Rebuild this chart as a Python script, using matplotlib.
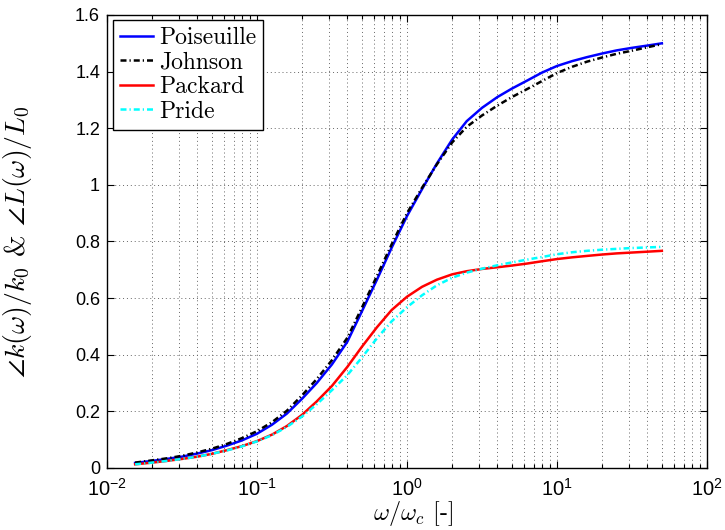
import matplotlib
matplotlib.use("Agg")
import matplotlib.pyplot as plt
from matplotlib.ticker import FixedLocator, LogLocator, NullLocator

plt.rcParams['mathtext.fontset'] = 'custom'
plt.rcParams['mathtext.rm'] = 'Liberation Sans'
plt.rcParams['mathtext.it'] = 'Liberation Sans:italic'
plt.rcParams['mathtext.bf'] = 'Liberation Sans:bold'
plt.rcParams['font.family'] = ['Liberation Sans', 'DejaVu Sans']
plt.rcParams['axes.unicode_minus'] = True

# normalised frequency omega/omega_c
freq = [0.0154, 0.02, 0.025, 0.0316, 0.04, 0.05, 0.063, 0.079, 0.1, 0.126,
        0.158, 0.2, 0.25, 0.316, 0.4, 0.5, 0.63, 0.79, 1.0, 1.26, 1.58, 2.0,
        2.5, 3.16, 4.0, 5.0, 6.3, 7.9, 10.0, 12.6, 15.8, 20.0, 25.0, 31.6,
        40.0, 50.0]

# phase of the normalised dynamic permeability / inductance
poiseuille = [0.018, 0.025, 0.032, 0.040, 0.051, 0.063, 0.079, 0.097, 0.121,
              0.153, 0.192, 0.245, 0.300, 0.366, 0.446, 0.553, 0.665, 0.778,
              0.890, 0.985, 1.075, 1.160, 1.225, 1.272, 1.310, 1.340, 1.368,
              1.396, 1.420, 1.437, 1.451, 1.464, 1.475, 1.484, 1.492, 1.500]
johnson = [0.019, 0.027, 0.034, 0.043, 0.055, 0.068, 0.085, 0.105, 0.130,
           0.162, 0.202, 0.257, 0.314, 0.381, 0.460, 0.566, 0.678, 0.790,
           0.900, 0.990, 1.072, 1.150, 1.205, 1.245, 1.280, 1.310, 1.338,
           1.366, 1.395, 1.417, 1.435, 1.450, 1.463, 1.474, 1.486, 1.497]
packard = [0.013, 0.019, 0.025, 0.032, 0.040, 0.050, 0.063, 0.077, 0.095,
           0.118, 0.148, 0.188, 0.235, 0.290, 0.357, 0.428, 0.497, 0.558,
           0.605, 0.640, 0.665, 0.684, 0.695, 0.703, 0.709, 0.715, 0.722,
           0.730, 0.738, 0.744, 0.749, 0.754, 0.758, 0.761, 0.764, 0.767]
pride = [0.013, 0.019, 0.025, 0.032, 0.040, 0.050, 0.062, 0.076, 0.094,
         0.116, 0.145, 0.182, 0.225, 0.275, 0.328, 0.390, 0.458, 0.518,
         0.568, 0.610, 0.645, 0.672, 0.690, 0.704, 0.716, 0.726, 0.736,
         0.745, 0.755, 0.762, 0.767, 0.771, 0.774, 0.777, 0.779, 0.781]

x_ticks = [1e-2, 1e-1, 1e0, 1e1, 1e2]
x_ticklabels = [r'$10^{-2}$', r'$10^{-1}$', r'$10^{0}$', r'$10^{1}$', r'$10^{2}$']
y_ticks = [0, 0.2, 0.4, 0.6, 0.8, 1.0, 1.2, 1.4, 1.6]
y_ticklabels = ['0', '0.2', '0.4', '0.6', '0.8', '1', '1.2', '1.4', '1.6']

fig = plt.figure(figsize=(7.25, 5.30), dpi=100)
ax = fig.add_axes([0.1476, 0.117, 0.8276, 0.8547])

lw = 1.8
dashdot = (2.4, 1.2, 0.5, 1.2)
ax.plot(freq, poiseuille, color=(0, 0, 1), lw=lw, label='Poiseuille', zorder=3)
ax.plot(freq, johnson, color='k', lw=lw, dashes=dashdot, label='Johnson', zorder=4)
ax.plot(freq, packard, color=(1, 0, 0), lw=lw, label='Packard', zorder=3)
ax.plot(freq, pride, color=(0, 1, 1), lw=lw, dashes=dashdot, label='Pride', zorder=4)

ax.set_xscale('log')
ax.set_xlim(1e-2, 1e2)
ax.set_ylim(0, 1.6)
ax.xaxis.set_major_locator(FixedLocator(x_ticks))
ax.set_xticklabels(x_ticklabels)
ax.xaxis.set_minor_locator(LogLocator(base=10, subs=range(2, 10), numticks=20))
ax.yaxis.set_major_locator(FixedLocator(y_ticks))
ax.set_yticklabels(y_ticklabels)
ax.yaxis.set_minor_locator(NullLocator())

ax.tick_params(which='both', direction='in', top=True, right=True,
               width=0.8, colors='k')
ax.tick_params(which='major', length=5)
ax.tick_params(which='minor', length=3)
ax.tick_params(axis='y', labelsize=13, pad=5)
ax.tick_params(axis='x', labelsize=14.5, pad=7)

ax.grid(True, which='major', linestyle=(0, (1, 3)), color='0.4', lw=0.7)
ax.grid(True, which='minor', axis='x', linestyle=(0, (1, 3)), color='0.4', lw=0.7)
for s in ax.spines.values():
    s.set_linewidth(1.0)
    s.set_color('k')

ax.set_xlabel(r'$\omega/\omega_c$ [-]', fontsize=17.5, family='cmr10',
              math_fontfamily='cm')
ax.xaxis.set_label_coords(0.51, -0.133)
ax.xaxis.label.set_verticalalignment('bottom')
ax.set_ylabel(r'$\angle k(\omega)/k_0$ & $\angle L(\omega)/L_0$', fontsize=20,
              family='cmr10', math_fontfamily='cm')
ax.yaxis.set_label_coords(-0.122, 0.5)

leg = ax.legend(loc='upper left', bbox_to_anchor=(6 / 600, 1 - 5 / 453),
                borderaxespad=0, prop={'family': 'cmr10', 'size': 17},
                handlelength=1.4, handletextpad=0.25, labelspacing=0.1,
                borderpad=0.3, fancybox=False, framealpha=1, edgecolor='k')
leg.get_frame().set_linewidth(1.0)

fig.savefig('out.png', dpi=100)
